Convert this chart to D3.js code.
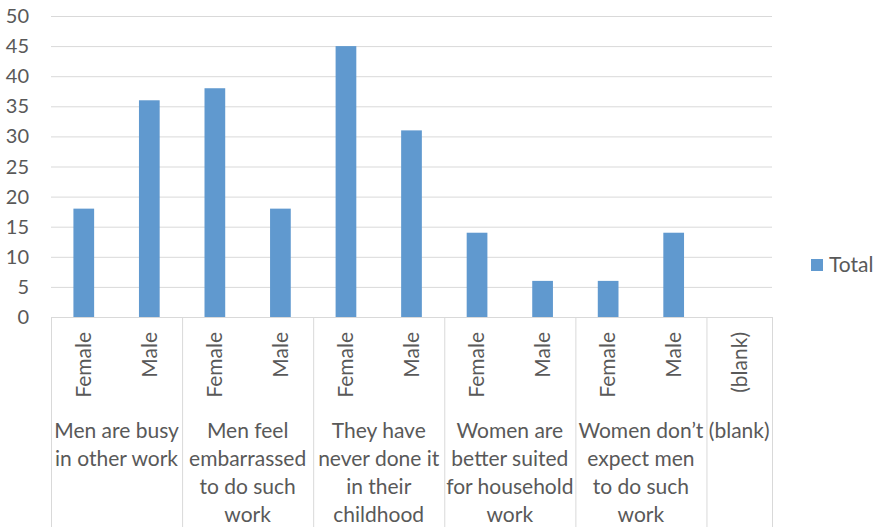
<!DOCTYPE html>
<html><head><meta charset="utf-8">
<script src="https://cdn.jsdelivr.net/npm/d3@7"></script>
<style>body{margin:0;background:#fff}svg{display:block}text{font-family:Lato,"Open Sans",sans-serif;fill:#595959}</style>
</head><body><svg id="c" width="882" height="527"></svg>
<script>
const groups = ["Men are busy in other work","Men feel embarrassed to do such work","They have never done it in their childhood","Women are better suited for household work","Women don\u2019t expect men to do such work","(blank)"];
const groupLines = [["Men are busy","in other work"],["Men feel","embarrassed","to do such","work"],["They have","never done it","in their","childhood"],["Women are","better suited","for household","work"],["Women don\u2019t","expect men","to do such","work"],["(blank)"]];
const genders = [["Female","Male"],["Female","Male"],["Female","Male"],["Female","Male"],["Female","Male"],["(blank)"]];
const totals = [[18,36],[38,18],[45,31],[14,6],[6,14],[null]];
const yTicks = [0,5,10,15,20,25,30,35,40,45,50];
const seriesName = "Total";

const leaves = [];
genders.forEach((gs,gi)=>gs.forEach((g,li)=>leaves.push({key:gi+"-"+li,gi,label:g,value:totals[gi][li]})));

const svg = d3.select("#c");
const L=51,R=772,T=16,B=317;
const x = d3.scaleBand().domain(leaves.map(d=>d.key)).range([L,R]).paddingInner(0.684).paddingOuter(0.342);
const slot = (R-L)/leaves.length;
const y = d3.scaleLinear().domain([0,50]).range([B,T]);

svg.append("g").selectAll("line").data(yTicks).join("line")
 .attr("x1",L).attr("x2",R).attr("y1",d=>y(d)+0.5).attr("y2",d=>y(d)+0.5)
 .attr("stroke","#d9d9d9").attr("stroke-width",1);

svg.append("g").selectAll("text").data(yTicks).join("text")
 .attr("x",29).attr("y",d=>y(d)).attr("dy","0.35em").attr("text-anchor","end")
 .attr("font-size",20).text(d=>d);

svg.append("g").selectAll("rect").data(leaves.filter(d=>d.value!=null)).join("rect")
 .attr("x",d=>x(d.key)).attr("width",x.bandwidth())
 .attr("y",d=>y(d.value)).attr("height",d=>B-y(d.value))
 .attr("fill","#6099cf");

let idx=0; const bounds=[0];
genders.forEach(gs=>{idx+=gs.length;bounds.push(idx);});
svg.append("g").selectAll("line").data(bounds).join("line")
 .attr("x1",d=>L+d*slot+0.5).attr("x2",d=>L+d*slot+0.5).attr("y1",B).attr("y2",527)
 .attr("stroke","#d9d9d9").attr("stroke-width",1);

svg.append("g").selectAll("text").data(leaves).join("text")
 .attr("transform",d=>`translate(${x(d.key)+x.bandwidth()/2},332) rotate(-90)`)
 .attr("text-anchor","end").attr("dy","0.35em").attr("font-size",21).text(d=>d.label);

groupLines.forEach((lines,gi)=>{
  const cx = L+(bounds[gi]+bounds[gi+1])/2*slot;
  const t = svg.append("text").attr("text-anchor","middle").attr("font-size",21);
  lines.forEach((ln,i)=>t.append("tspan").attr("x",cx).attr("y",438+i*28).text(ln));
});

svg.append("rect").attr("x",811).attr("y",259).attr("width",12).attr("height",12).attr("fill","#6099cf");
svg.append("text").attr("x",829).attr("y",265).attr("dy","0.35em").attr("font-size",21).text(seriesName);
</script></body></html>
